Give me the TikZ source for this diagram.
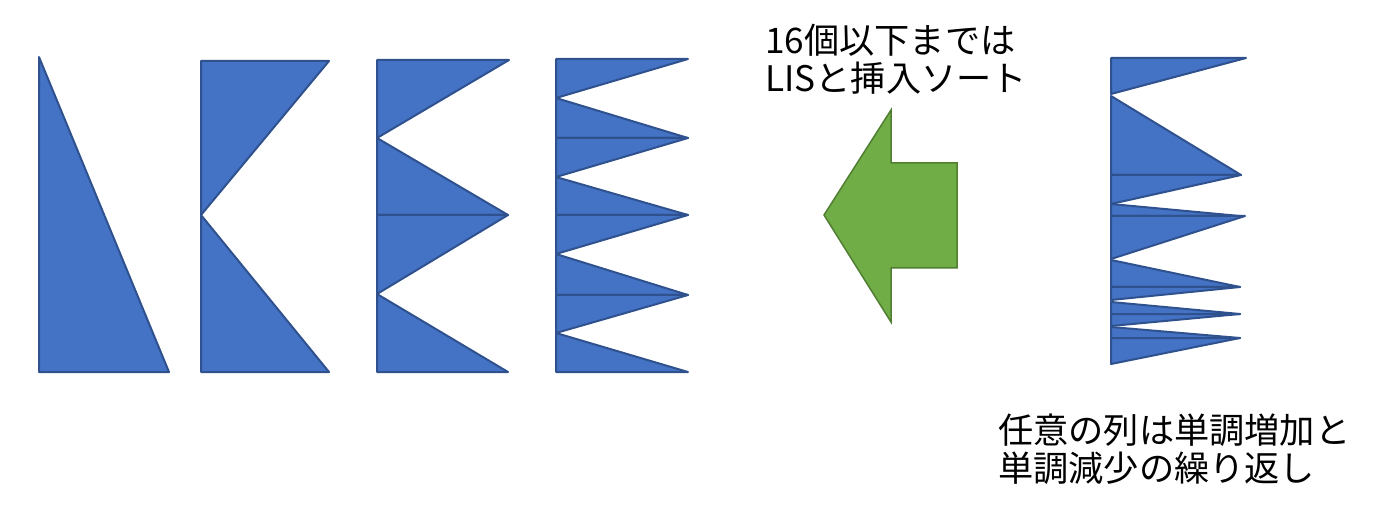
\documentclass[tikz,border=0pt]{standalone}
\usepackage{fontspec}
\newfontfamily\cjk{Noto Sans CJK JP}
\definecolor{bfill}{HTML}{4472C4}
\definecolor{bline}{HTML}{2F528F}
\definecolor{gfill}{HTML}{70AD47}
\definecolor{gline}{HTML}{507E32}
\tikzset{tri/.style={fill=bfill,draw=bline,line width=2pt,line join=round},
lab/.style={anchor=west,align=left,font=\cjk\fontsize{35.2}{38}\selectfont,inner sep=0pt}}
\begin{document}
\begin{tikzpicture}[x=1pt,y=-1pt]
\useasboundingbox (0,0) rectangle (1388,518);
% 1
\draw[tri] (39,57) -- (39,372) -- (169,372) -- cycle;
% 2
\draw[tri] (201,61) -- (329,61) -- (201,215) -- cycle;
\draw[tri] (201,215) -- (329,372) -- (201,372) -- cycle;
% 3
\draw[tri] (377,60) -- (509,60) -- (377,138) -- cycle;
\draw[tri] (377,138) -- (508,215) -- (377,215) -- cycle;
\draw[tri] (377,215) -- (508,215) -- (377,294) -- cycle;
\draw[tri] (377,294) -- (508,372) -- (377,372) -- cycle;
% 4
\foreach \a/\b/\c in {59/98/138,138/177/215,215/254/295,295/333/372}{
 \draw[tri] (556,\a) -- (688,\a) -- (556,\b) -- cycle;
 \draw[tri] (556,\b) -- (688,\c) -- (556,\c) -- cycle;
}
% right
\draw[tri] (1111,58) -- (1246,58) -- (1111,94) -- cycle;
\draw[tri] (1111,96) -- (1241,175) -- (1111,175) -- cycle;
\draw[tri] (1111,175) -- (1241,175) -- (1111,204) -- cycle;
\draw[tri] (1111,204) -- (1240,216) -- (1111,216) -- cycle;
\draw[tri] (1111,216) -- (1245,216) -- (1111,259) -- cycle;
\draw[tri] (1111,260) -- (1240,287) -- (1111,287) -- cycle;
\draw[tri] (1111,287) -- (1240,287) -- (1111,300) -- cycle;
\draw[tri] (1111,302) -- (1240,314) -- (1111,314) -- cycle;
\draw[tri] (1111,314) -- (1240,314) -- (1111,326) -- cycle;
\draw[tri] (1111,327) -- (1240,338) -- (1111,338) -- cycle;
\draw[tri] (1111,338) -- (1240,338) -- (1111,364) -- cycle;
% arrow
\draw[fill=gfill,draw=gline,line width=1.5pt] (824,215) -- (891,110) -- (891,163) -- (957,163) -- (957,268) -- (891,268) -- (891,322) -- cycle;
% labels
\node[lab] (t1) at (765,59) {16個以下までは\\LISと挿入ソート};
\node[lab] (t2) at (998,449) {任意の列は単調増加と\\単調減少の繰り返し};
\end{tikzpicture}
\end{document}
